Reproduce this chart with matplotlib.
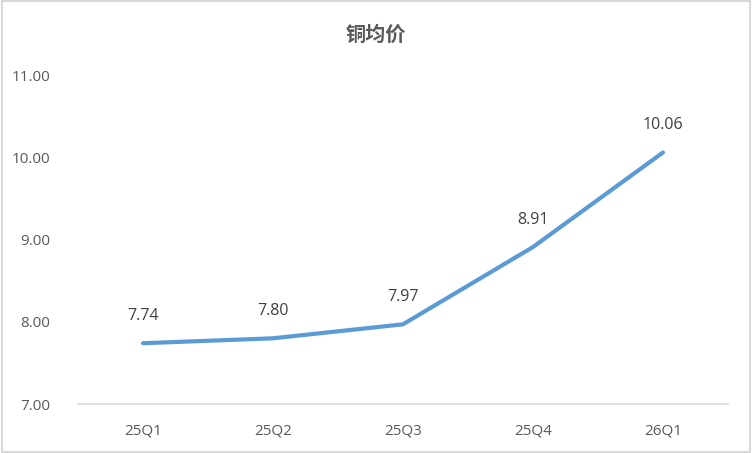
import matplotlib.pyplot as plt
from matplotlib.patches import Rectangle

plt.rcParams['font.family'] = ['Open Sans', 'Noto Sans CJK SC', 'DejaVu Sans']

quarters = ['25Q1', '25Q2', '25Q3', '25Q4', '26Q1']
price = [7.74, 7.80, 7.97, 8.91, 10.06]
yticks = [7.0, 8.0, 9.0, 10.0, 11.0]

grey = '#595959'

fig = plt.figure(figsize=(7.52, 4.53), dpi=100)
ax = fig.add_axes([0.1037, 0.108, 0.8643, 0.726])

x = list(range(len(quarters)))
ax.plot(x, price, color='#5B9BD5', lw=3, solid_capstyle='round', solid_joinstyle='round')

for xi, v in zip(x, price):
    ax.annotate(f'{v:.2f}', (xi, v), xytext=(0, 14), textcoords='offset points',
                ha='center', va='bottom', fontsize=11.5, color='#404040')

ax.set_xlim(-0.5, len(quarters) - 0.5)
ax.set_ylim(7, 11)
ax.set_xticks(x)
ax.set_xticklabels(quarters)
ax.set_yticks(yticks)
ax.set_yticklabels([f'{t:.2f}' for t in yticks])
ax.tick_params(axis='both', length=0, labelsize=11, labelcolor=grey)
ax.tick_params(axis='y', pad=20)
ax.tick_params(axis='x', pad=14)

for s in ['top', 'right', 'left']:
    ax.spines[s].set_visible(False)
ax.spines['bottom'].set_color('#D9D9D9')
ax.spines['bottom'].set_linewidth(1.2)

fig.text(0.5, 0.925, '铜均价', ha='center', va='center', fontsize=14.5,
         fontweight='bold', color=grey, family=['Noto Sans CJK SC', 'DejaVu Sans'])

fig.patches.append(Rectangle((0.002, 0.003), 0.996, 0.994, transform=fig.transFigure,
                             fill=False, edgecolor='#D9D9D9', lw=1.5))

fig.savefig('out.png', dpi=100)
